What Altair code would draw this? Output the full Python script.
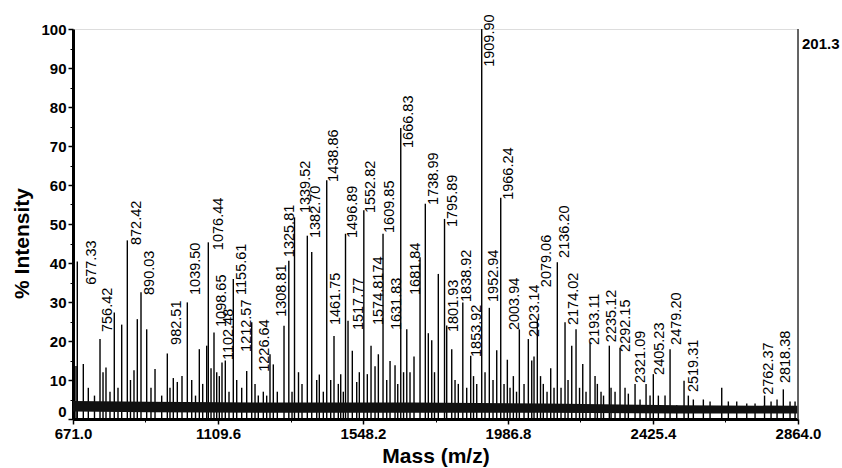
import altair as alt
import pandas as pd

# ---- spectrum peaks (m/z, % intensity) ----
peak_mz = [680.1, 684.0, 702.2, 717.3, 736.0, 752.7, 761.8, 770.8, 782.9, 795.9,
           807.1, 818.3, 835.3, 844.9, 855.5, 865.5, 876.7, 893.9, 906.9, 919.1,
           939.3, 956.3, 964.4, 974.4, 986.5, 1000.7, 1016.8, 1030.1, 1041.6, 1053.1,
           1063.3, 1075.4, 1080.3, 1088.5, 1097.5, 1105.7, 1113.6, 1121.7, 1131.7, 1142.9,
           1155.9, 1166.2, 1181.3, 1196.4, 1211.6, 1221.6, 1231.5, 1246.7, 1256.9, 1266.9,
           1276.9, 1289.0, 1309.3, 1323.8, 1333.5, 1341.0, 1353.1, 1363.7, 1379.8, 1393.1,
           1408.2, 1416.1, 1428.2, 1438.5, 1450.5, 1460.5, 1473.5, 1480.8, 1488.7, 1495.3,
           1502.9, 1515.9, 1529.2, 1537.1, 1550.7, 1561.3, 1572.5, 1584.6, 1594.6, 1608.8,
           1620.0, 1630.0, 1645.1, 1653.3, 1662.4, 1670.9, 1680.6, 1690.4, 1702.5, 1720.7,
           1736.7, 1745.8, 1756.1, 1764.5, 1776.0, 1794.8, 1801.4, 1816.6, 1826.6, 1836.5,
           1850.1, 1861.9, 1874.0, 1882.5, 1892.2, 1907.3, 1917.3, 1930.3, 1941.5, 1952.7,
           1964.8, 1974.8, 1984.8, 1992.9, 2003.0, 2012.6, 2021.1, 2035.3, 2048.3, 2058.6,
           2065.5, 2075.5, 2085.2, 2093.6, 2104.9, 2116.0, 2126.0, 2136.0, 2147.2, 2159.3,
           2168.4, 2179.6, 2192.6, 2203.2, 2212.9, 2222.8, 2235.0, 2250.1, 2257.1, 2268.2,
           2275.8, 2293.3, 2298.5, 2310.6, 2325.7, 2340.8, 2350.8, 2371.1, 2386.2, 2404.4,
           2416.5, 2426.4, 2441.6, 2461.8, 2477.0, 2497.2, 2519.3, 2532.3, 2547.4, 2577.7,
           2598.0, 2633.3, 2653.3, 2678.7, 2709.0, 2734.1, 2762.8, 2782.5, 2800.6, 2819.6,
           2839.9, 2855.1]
peak_int = [13.6, 40.4, 14.1, 8.0, 6.0, 20.5, 12.0, 13.2, 7.0, 27.3,
            8.0, 24.2, 45.8, 10.0, 12.5, 25.6, 32.5, 23.0, 8.0, 12.8,
            6.0, 16.8, 8.0, 10.5, 9.5, 11.0, 29.9, 10.0, 6.0, 17.9,
            9.0, 18.8, 45.3, 13.0, 22.2, 12.0, 11.0, 14.5, 15.0, 7.0,
            35.9, 10.0, 8.0, 12.3, 24.8, 9.0, 6.0, 7.0, 6.0, 16.6,
            14.0, 7.0, 23.9, 40.6, 7.0, 51.7, 12.0, 9.0, 47.0, 42.8,
            10.0, 11.4, 7.0, 61.2, 10.0, 21.3, 9.0, 11.5, 7.0, 47.5,
            25.2, 17.5, 9.5, 12.0, 53.5, 11.5, 18.8, 13.5, 16.6, 47.5,
            10.0, 14.9, 13.8, 9.0, 74.6, 12.0, 23.0, 12.0, 16.0, 41.5,
            55.2, 22.0, 20.2, 12.0, 37.2, 51.3, 24.0, 17.9, 10.0, 9.0,
            29.9, 8.0, 16.2, 11.0, 9.0, 100.0, 12.0, 28.5, 10.0, 17.6,
            56.7, 9.0, 15.2, 8.0, 11.0, 7.0, 23.0, 9.0, 20.5, 15.0,
            16.0, 25.6, 11.0, 9.0, 7.0, 13.0, 8.0, 40.2, 8.0, 24.8,
            10.0, 18.8, 23.0, 8.0, 14.1, 7.0, 19.6, 11.0, 9.0, 7.0,
            6.0, 18.8, 8.0, 7.0, 18.3, 8.0, 6.5, 9.0, 5.0, 9.0,
            6.0, 11.5, 6.0, 6.0, 17.9, 3.5, 9.8, 6.0, 5.0, 5.0,
            4.5, 8.0, 4.5, 4.5, 4.0, 4.0, 6.0, 4.5, 5.0, 7.6,
            4.5, 4.5]

# ---- peak annotations: text, anchor m/z and anchor % intensity ----
label_text = ["677.33", "756.42", "872.42", "890.03", "982.51", "1039.50", "1076.44",
              "1098.65", "1102.48", "1155.61", "1212.57", "1226.64", "1308.81", "1325.81",
              "1339.52", "1382.70", "1438.86", "1461.75", "1496.89", "1517.77", "1552.82",
              "1574.8174", "1609.85", "1631.83", "1666.83", "1681.84", "1738.99", "1795.89",
              "1801.93", "1838.92", "1853.92", "1909.90", "1952.94", "1966.24", "2003.94",
              "2023.14", "2079.06", "2136.20", "2174.02", "2193.11", "2235.12", "2292.15",
              "2321.09", "2405.23", "2479.20", "2519.31", "2762.37", "2818.38"]
label_mz = [707.3, 755.7, 843.4, 882.8, 964.4, 1021.9, 1091.5,
            1100.6, 1121.7, 1161.1, 1176.2, 1230.6, 1282.1, 1306.3,
            1354.7, 1384.9, 1439.4, 1445.4, 1496.8, 1515.0, 1551.3,
            1575.5, 1608.8, 1629.9, 1666.2, 1687.4, 1741.8, 1799.3,
            1802.4, 1841.7, 1871.9, 1911.3, 1923.4, 1968.7, 1986.9,
            2047.4, 2083.7, 2138.1, 2165.4, 2228.9, 2280.3, 2322.7,
            2368.0, 2425.5, 2476.9, 2528.3, 2755.2, 2806.7]
label_int = [34.4, 22.3, 44.6, 31.8, 19.0, 31.8, 43.3,
             23.6, 15.1, 31.8, 17.2, 12.1, 26.2, 41.5,
             52.8, 46.4, 60.8, 24.1, 46.4, 22.8, 52.8,
             24.1, 47.7, 22.8, 69.5, 31.8, 54.9, 49.2,
             22.3, 30.0, 15.9, 90.3, 30.0, 56.2, 22.8,
             21.0, 33.8, 41.3, 24.1, 19.0, 19.7, 17.2,
             9.2, 11.3, 19.0, 6.9, 6.2, 9.2]

# ---- baseline noise band ----
base_mz = [671, 900, 1300, 1700, 2100, 2500, 2864]
base_hi = [4.6, 4.4, 4.2, 4.2, 4.0, 3.5, 3.4]
base_lo = [1.9, 1.7, 1.6, 1.6, 1.6, 1.4, 1.4]

x_ticks = [671.0, 1109.6, 1548.2, 1986.8, 2425.4, 2864.0]
x_minor = [890.3, 1328.9, 1767.5, 2206.1, 2644.7]
y_ticks = [0, 10, 20, 30, 40, 50, 60, 70, 80, 90, 100]
y_minor = [5, 15, 25, 35, 45, 55, 65, 75, 85, 95]
max_count = ["201.3"]
x_max = [2864.0]

peaks = pd.DataFrame({"mz": peak_mz, "inten": peak_int})
labels = pd.DataFrame({"text": label_text, "mz": label_mz, "inten": label_int})
base = pd.DataFrame({"mz": base_mz, "hi": base_hi, "lo": base_lo})
edge = pd.DataFrame({"mz": x_max, "top": [100.0], "bottom": [0.0], "text": max_count})

FONT = "Liberation Sans"
xs = alt.Scale(domain=[671, 2864], nice=False, zero=False)
ys = alt.Scale(domain=[0, 100], nice=False)

x_main = alt.Axis(values=x_ticks, format=".1f", orient="bottom", grid=False,
                  labelFont=FONT, labelFontSize=15, labelFontWeight="bold", labelColor="black",
                  labelFlush=False, labelOverlap=False, labelPadding=2,
                  tickSize=5, tickWidth=1.5, tickColor="black",
                  domainWidth=3, domainColor="black",
                  title="Mass (m/z)", titleFont=FONT, titleFontSize=21, titleFontWeight="bold",
                  titleColor="black", titleY=43, titleBaseline="alphabetic")
y_main = alt.Axis(values=y_ticks, format="d", orient="left", grid=False,
                  labelFont=FONT, labelFontSize=15, labelFontWeight="bold", labelColor="black",
                  labelPadding=2, labelFlush=False, labelOverlap=False,
                  labelBaseline={"condition": {"test": "datum.value == 0", "value": "bottom"},
                                 "value": "middle"},
                  tickSize=5, tickWidth=1.5, tickColor="black",
                  domainWidth=3, domainColor="black",
                  title="% Intensity", titleFont=FONT, titleFontSize=21, titleFontWeight="bold",
                  titleColor="black", titleAngle=270, titleX=-45, titleY=214,
                  titleBaseline="alphabetic", titleAlign="center")
x_min_ax = alt.Axis(values=x_minor, orient="bottom", labels=False, grid=False, domain=False,
                    tickSize=3, tickWidth=1, tickColor="black", title=None)
y_min_ax = alt.Axis(values=y_minor, orient="left", labels=False, grid=False, domain=False,
                    tickSize=3, tickWidth=1, tickColor="black", title=None)

band = alt.Chart(base).mark_area(color="#111111", opacity=1).encode(
    x=alt.X("mz:Q", scale=xs, axis=x_min_ax),
    y=alt.Y("hi:Q", scale=ys, axis=y_min_ax),
    y2="lo:Q",
)

lines = alt.Chart(peaks).mark_rule(color="black", strokeWidth=1.4).encode(
    x=alt.X("mz:Q", scale=xs, axis=x_main),
    y=alt.Y("inten:Q", scale=ys, axis=y_main),
    y2=alt.datum(0),
)

texts = alt.Chart(labels).mark_text(
    angle=270, align="left", baseline="top", font=FONT, fontSize=14.5, color="black"
).encode(
    x=alt.X("mz:Q", scale=xs, axis=None),
    y=alt.Y("inten:Q", scale=ys, axis=None),
    text="text:N",
)

right_rule = alt.Chart(edge).mark_rule(color="#555555", strokeWidth=1.8).encode(
    x=alt.X("mz:Q", scale=xs, axis=None),
    y=alt.Y("bottom:Q", scale=ys, axis=None),
    y2="top:Q",
)

right_text = alt.Chart(edge).mark_text(
    align="left", baseline="top", dx=4, dy=8, font=FONT, fontSize=15,
    fontWeight="bold", color="black"
).encode(
    x=alt.X("mz:Q", scale=xs, axis=None),
    y=alt.Y("top:Q", scale=ys, axis=None),
    text="text:N",
)

chart = alt.layer(lines, band, texts, right_rule, right_text).resolve_axis(
    x="independent", y="independent"
).properties(
    width=725, height=390,
    autosize=alt.AutoSizeParams(type="none"),
    padding={"left": 73, "top": 29, "right": 44, "bottom": 49},
).configure_view(strokeWidth=0).configure(background="white")

chart.save("out.html", embed_options={"renderer": "svg", "actions": False})
